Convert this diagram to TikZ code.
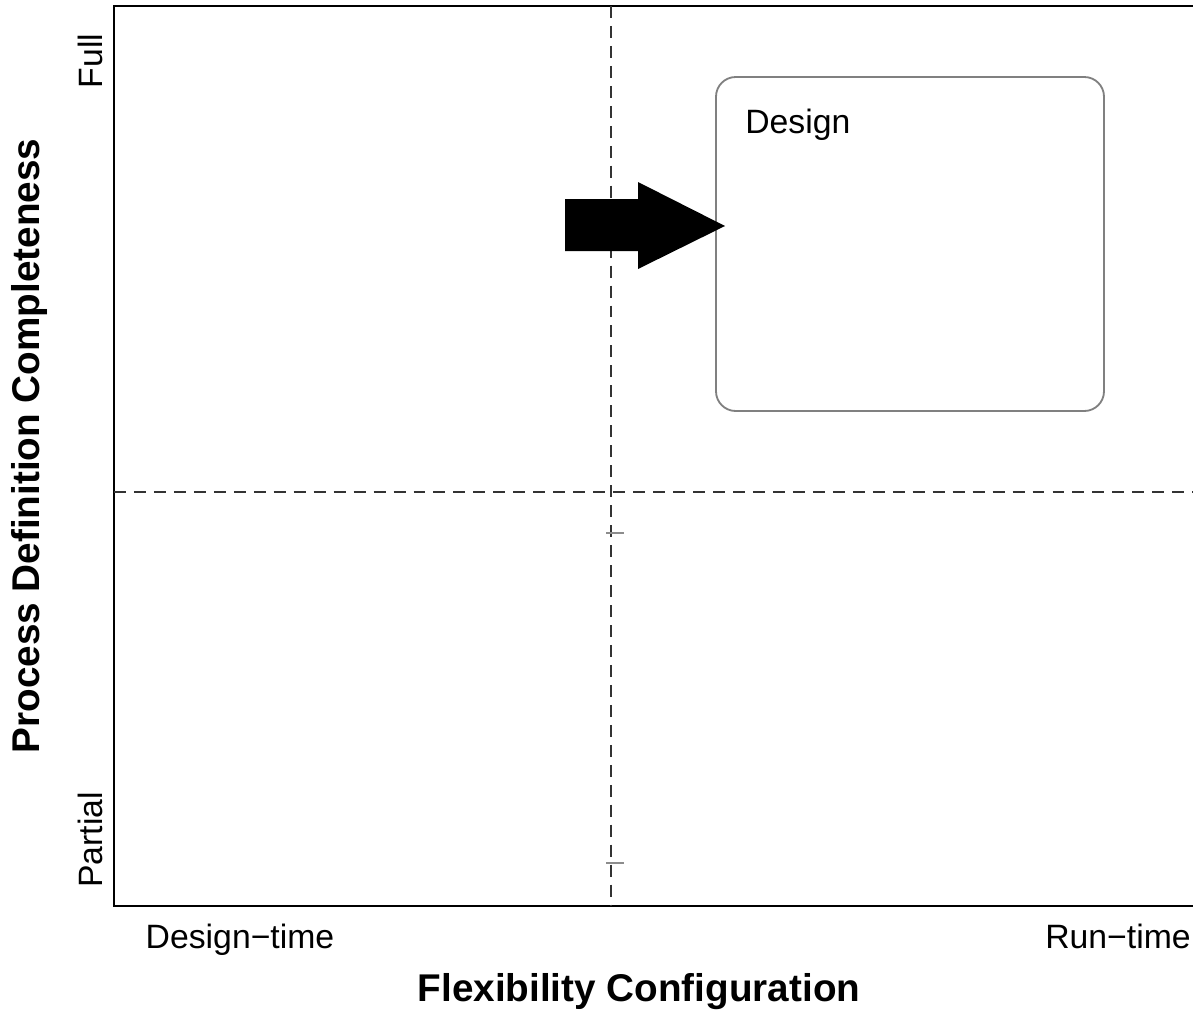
\documentclass[tikz,border=0pt]{standalone}
\usepackage{fontspec}
\setmainfont{Liberation Sans}
\usepackage{tikz}
\pgfdeclarelayer{edgelayer}
\pgfdeclarelayer{nodelayer}
\pgfsetlayers{edgelayer,nodelayer,main}
\tikzstyle{frame}=[draw=black, line width=1.4pt]
\tikzstyle{divider}=[draw=black!80, line width=1.3pt, dash pattern=on 8.5pt off 5.7pt]
\tikzstyle{tick}=[draw=black!45, line width=1.2pt]
\tikzstyle{ticklabel}=[inner sep=0pt, font=\fontsize{24}{28}\selectfont]
\tikzstyle{axislabel}=[inner sep=0pt, font=\fontsize{27.5}{31}\selectfont\bfseries]
\tikzstyle{stage}=[draw=black!50, line width=1.3pt, rounded corners=14pt, fill=white]
\tikzstyle{pointer}=[fill=black]

\begin{document}
\begin{tikzpicture}[x=0.025cm, y=-0.025cm]
				\useasboundingbox (0, 0) rectangle (1193, 1014);
				\begin{pgfonlayer}{nodelayer}
					\coordinate (tl) at (114, 6);
					\coordinate (tr) at (1193, 6);
					\coordinate (bl) at (114, 906);
					\coordinate (br) at (1193, 906);
					\coordinate (vtop) at (611, 6);
					\coordinate (vbot) at (611, 906);
					\coordinate (hleft) at (114, 492);
					\coordinate (hright) at (1193, 492);
					\node [style=stage, minimum width=388*0.025cm, minimum height=334*0.025cm] (box) at (910, 244) {};
					\node [style=ticklabel, anchor=base west] (boxname) at (745, 133) {Design};
					\node [style=ticklabel, anchor=base] (xlo) at (240, 948) {Design−time};
					\node [style=ticklabel, anchor=base east] (xhi) at (1191, 948) {Run−time};
					\node [style=ticklabel, rotate=90] (ylo) at (90, 840) {Partial};
					\node [style=ticklabel, rotate=90] (yhi) at (90, 61) {Full};
					\node [style=axislabel, anchor=base] (xname) at (639, 1001) {Flexibility Configuration};
					\node [style=axislabel, rotate=90] (yname) at (30, 446) {Process Definition Completeness};
				\end{pgfonlayer}
				\begin{pgfonlayer}{edgelayer}
					\draw [style=frame] (tr) -- (tl) -- (bl) -- (br);
					\draw [style=divider] (vtop) -- (vbot);
					\draw [style=divider] (hleft) -- (hright);
					\draw [style=tick] (606, 533) -- (624, 533);
					\draw [style=tick] (606, 863) -- (624, 863);
				\end{pgfonlayer}
				% arrow into the box
				\fill [style=pointer] (565, 199) -- (638, 199) -- (638, 182) -- (725, 226)
					-- (638, 269) -- (638, 251) -- (565, 251) -- cycle;
			\end{tikzpicture}
\end{document}
